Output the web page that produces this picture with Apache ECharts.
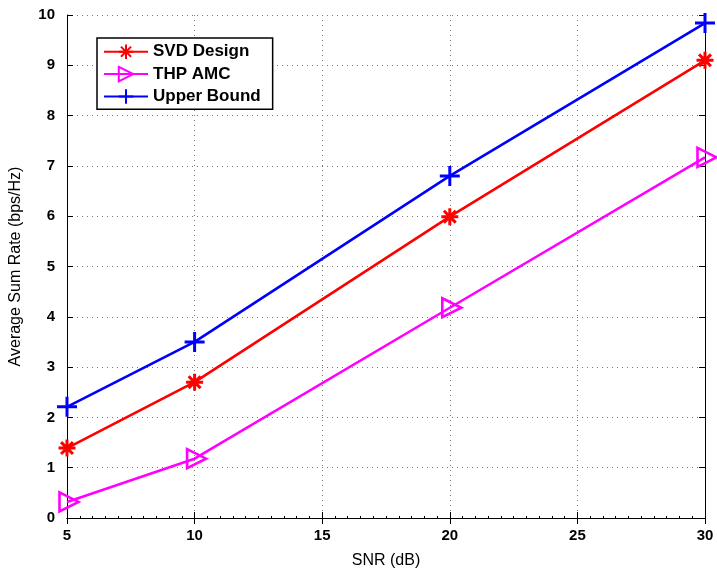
<!DOCTYPE html>
<html>
<head>
<meta charset="utf-8">
<script src="https://cdn.jsdelivr.net/npm/echarts@6/dist/echarts.min.js"></script>
<style>
  html, body { margin: 0; padding: 0; background: #fff; }
  #chart { width: 717px; height: 575px; }
</style>
</head>
<body>
<div id="chart"></div>
<script>
// SNR points (dB) and average sum rate for each scheme (bps/Hz)
const snr = [5, 10, 20, 30];
const svdDesign = [1.39, 2.70, 5.99, 9.10];
const thpAmc = [0.32, 1.18, 4.18, 7.17];
const upperBound = [2.21, 3.50, 6.80, 9.84];

const xTicks = [5, 10, 15, 20, 25, 30];
const yTicks = [0, 1, 2, 3, 4, 5, 6, 7, 8, 9, 10];

// Stroked marker shapes
const starPath = 'path://M5,0 L5,10 M0,5 L10,5 M1.5,1.5 L8.5,8.5 M1.5,8.5 L8.5,1.5';
const plusPath = 'path://M5,0 L5,10 M0,5 L10,5';
const triPath = 'path://M0,0 L10,5 L0,10 Z';

const pair = vals => snr.map((x, i) => [x, vals[i]]);

const tickFont = { fontFamily: 'Liberation Sans, Arial, sans-serif', fontWeight: 'bold', fontSize: 15, color: '#000' };
const gridDots = { show: true, lineStyle: { color: '#777', width: 1, type: [1, 4] } };

const chart = echarts.init(document.getElementById('chart'), null, { renderer: 'canvas' });
chart.setOption({
  animation: false,
  backgroundColor: '#fff',
  grid: { left: 65, right: 12, top: 15, bottom: 57, containLabel: false },
  legend: {
    left: 97, top: 38,
    orient: 'vertical',
    backgroundColor: '#fff',
    borderColor: '#000', borderWidth: 1.5, borderRadius: 0,
    padding: [4, 12, 3, 6],
    itemGap: 3,
    itemWidth: 44, itemHeight: 18,
    textStyle: { fontFamily: 'Liberation Sans, Arial, sans-serif', fontWeight: 'bold', fontSize: 17, color: '#000' },
    data: ['SVD Design', 'THP AMC', 'Upper Bound']
  },
  xAxis: [{
    type: 'value', min: 5, max: 30, interval: 5,
    name: 'SNR (dB)', nameLocation: 'middle', nameGap: 35,
    nameTextStyle: { fontFamily: 'Liberation Sans, Arial, sans-serif', fontSize: 16, color: '#000' },
    axisLine: { lineStyle: { color: '#000', width: 1 } },
    axisTick: { inside: true, length: 6, lineStyle: { color: '#000' } },
    minorTick: { show: true, splitNumber: 10, length: 2, lineStyle: { color: '#000' } },
    axisLabel: Object.assign({ margin: 10 }, tickFont),
    splitLine: gridDots
  }, {
    type: 'value', min: 5, max: 30, interval: 5, position: 'top',
    axisLine: { show: true, lineStyle: { color: '#000', width: 1 } },
    axisTick: { inside: true, length: 6, lineStyle: { color: '#000' } },
    axisLabel: { show: false }, splitLine: { show: false }
  }],
  yAxis: [{
    type: 'value', min: 0, max: 10, interval: 1,
    name: 'Average Sum Rate (bps/Hz)', nameLocation: 'middle', nameGap: 43,
    nameTextStyle: { fontFamily: 'Liberation Sans, Arial, sans-serif', fontSize: 16, color: '#000' },
    axisLine: { show: true, lineStyle: { color: '#000', width: 1 } },
    axisTick: { show: true, inside: true, length: 6, lineStyle: { color: '#000' } },
    axisLabel: Object.assign({ margin: 12 }, tickFont),
    splitLine: gridDots
  }, {
    type: 'value', min: 0, max: 10, interval: 1, position: 'right',
    axisLine: { show: true, lineStyle: { color: '#000', width: 1 } },
    axisTick: { show: true, inside: true, length: 6, lineStyle: { color: '#000' } },
    axisLabel: { show: false }, splitLine: { show: false }
  }],
  series: [{
    name: 'SVD Design', type: 'line', data: pair(svdDesign),
    symbol: starPath, symbolSize: 17,
    lineStyle: { color: '#ff0000', width: 2.6 },
    itemStyle: { color: 'none', borderColor: '#ff0000', borderWidth: 3 },
    z: 3
  }, {
    name: 'THP AMC', type: 'line', data: pair(thpAmc),
    symbol: triPath, symbolSize: [19, 19], symbolOffset: [2, 0],
    lineStyle: { color: '#ff00ff', width: 2.6 },
    itemStyle: { color: 'none', borderColor: '#ff00ff', borderWidth: 2.6 },
    z: 2
  }, {
    name: 'Upper Bound', type: 'line', data: pair(upperBound),
    symbol: plusPath, symbolSize: 20,
    lineStyle: { color: '#0000ff', width: 2.6 },
    itemStyle: { color: 'none', borderColor: '#0000ff', borderWidth: 3 },
    z: 4
  }]
});
</script>
</body>
</html>
